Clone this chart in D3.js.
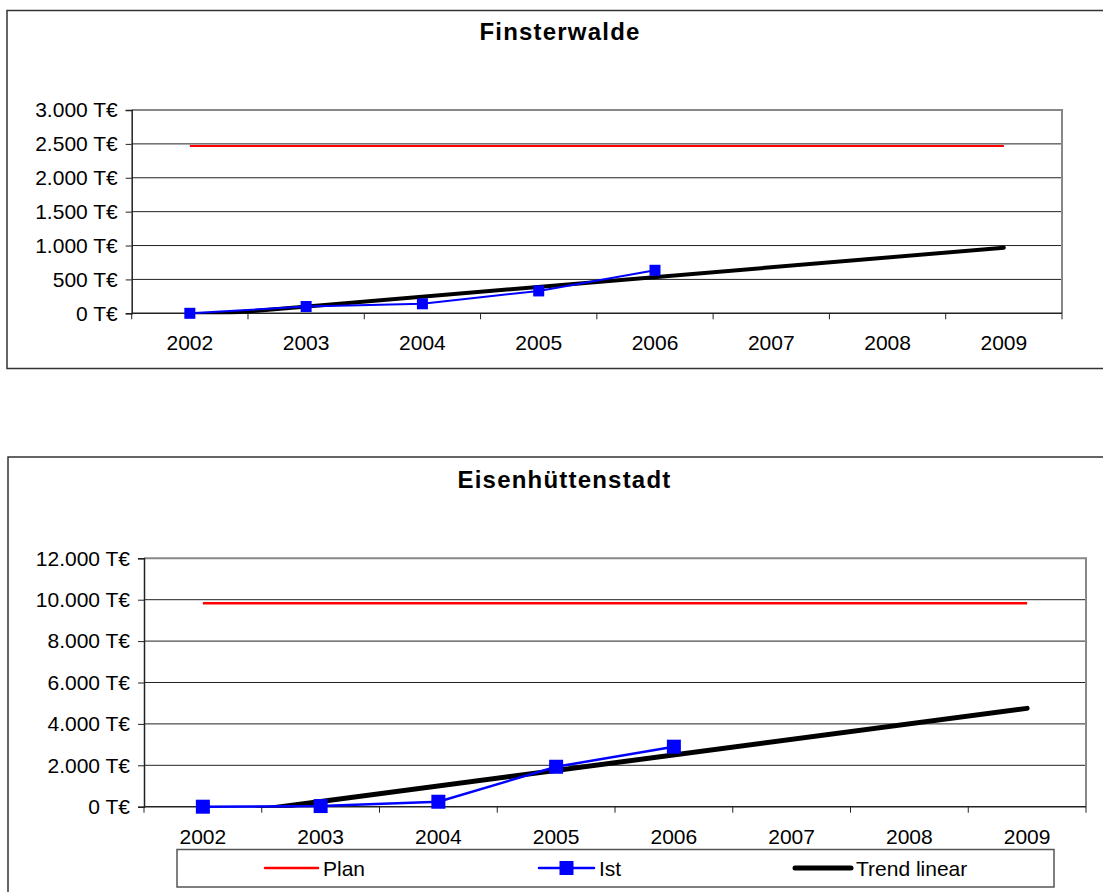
<!DOCTYPE html>
<html>
<head>
<meta charset="utf-8">
<script src="https://cdn.jsdelivr.net/npm/d3@7"></script>
<style>
  body { margin: 0; background: #fff; }
  svg { display: block; font-family: "Liberation Sans", Arial, sans-serif; }
</style>
</head>
<body>
<div id="chart"></div>
<script>
// categories
const years = ["2002", "2003", "2004", "2005", "2006", "2007", "2008", "2009"];
const istYears = ["2002", "2003", "2004", "2005", "2006"];
const trendYears = ["2002", "2009"];

// Finsterwalde (T€)
const finPlan = [2470, 2470, 2470, 2470, 2470, 2470, 2470, 2470];
const finIst = [0, 100, 140, 330, 635];
const finTrend = [-45, 968];
const finTicks = [0, 500, 1000, 1500, 2000, 2500, 3000];

// Eisenhüttenstadt (T€)
const eisPlan = [9830, 9830, 9830, 9830, 9830, 9830, 9830, 9830];
const eisIst = [0, 30, 240, 1930, 2900];
const eisTrend = [-500, 4750];
const eisTicks = [0, 2000, 4000, 6000, 8000, 10000, 12000];

const legendLabels = ["Plan", "Ist", "Trend linear"];

const W = 1103, H = 892;
const de = d3.formatLocale({ decimal: ",", thousands: ".", grouping: [3], currency: ["", " €"] });
const fmt = v => de.format(",")(v) + " T€";

const svg = d3.select("#chart").append("svg")
  .attr("width", W)
  .attr("height", H);

function drawChart(cfg) {
  const g = svg.append("g");

  // outer chart frame
  g.append("rect")
    .attr("x", cfg.box[0]).attr("y", cfg.box[1])
    .attr("width", cfg.box[2]).attr("height", cfg.box[3])
    .attr("fill", "none").attr("stroke", "#333").attr("stroke-width", 1.5);

  g.append("text")
    .attr("x", cfg.titleX).attr("y", cfg.titleY)
    .attr("text-anchor", "middle")
    .attr("font-size", 24).attr("font-weight", "bold")
    .attr("letter-spacing", "1.2px")
    .text(cfg.title);

  const [left, top, right, bottom] = cfg.plot;
  const x = d3.scaleBand(years, [left, right]);
  const cx = d => x(d) + x.bandwidth() / 2;
  const y = d3.scaleLinear([0, d3.max(cfg.ticks)], [bottom, top]);

  // gridlines
  g.append("g").selectAll("line")
    .data(cfg.ticks.filter(t => t > 0 && t < d3.max(cfg.ticks)))
    .join("line")
      .attr("x1", left).attr("x2", right)
      .attr("y1", d => y(d)).attr("y2", d => y(d))
      .attr("stroke", "#222").attr("stroke-width", 1);

  // plot area border (top/right)
  g.append("path")
    .attr("d", `M${left},${top}H${right}V${bottom}`)
    .attr("fill", "none").attr("stroke", "#888").attr("stroke-width", 2);

  // y axis
  const yAxis = g.append("g")
    .attr("transform", `translate(${left},0)`)
    .call(d3.axisLeft(y).tickValues(cfg.ticks).tickSize(6).tickPadding(8).tickFormat(fmt));
  yAxis.select(".domain").attr("stroke", "#222").attr("stroke-width", 1.5);
  yAxis.selectAll(".tick line").attr("stroke", "#222");
  yAxis.selectAll("text").attr("font-size", 21).attr("fill", "#000")
    .attr("font-family", "Liberation Sans, Arial, sans-serif");

  // x axis: ticks on band edges, labels centred
  const edges = years.map(d => x(d)).concat([right]);
  g.append("line")
    .attr("x1", left).attr("x2", right)
    .attr("y1", bottom).attr("y2", bottom)
    .attr("stroke", "#222").attr("stroke-width", 1.5);
  g.append("g").selectAll("line")
    .data(edges)
    .join("line")
      .attr("x1", d => d).attr("x2", d => d)
      .attr("y1", bottom).attr("y2", bottom + 6)
      .attr("stroke", "#222");
  g.append("g").selectAll("text")
    .data(years)
    .join("text")
      .attr("x", d => cx(d))
      .attr("y", bottom + 37)
      .attr("text-anchor", "middle")
      .attr("font-size", 21)
      .text(d => d);

  const clipId = "clip-" + cfg.id;
  g.append("clipPath").attr("id", clipId)
    .append("rect")
      .attr("x", left).attr("y", top)
      .attr("width", right - left).attr("height", bottom - top + 1);

  const line = d3.line().x(d => cx(d[0])).y(d => y(d[1]));

  // Plan
  g.append("path")
    .datum(d3.zip(years, cfg.plan))
    .attr("d", line)
    .attr("fill", "none").attr("stroke", "#ff0000").attr("stroke-width", cfg.thin);

  // Trend linear
  g.append("path")
    .datum(d3.zip(trendYears, cfg.trend))
    .attr("clip-path", `url(#${clipId})`)
    .attr("d", line)
    .attr("fill", "none").attr("stroke", "#000")
    .attr("stroke-width", cfg.thick).attr("stroke-linecap", "round");

  // Ist
  const ist = d3.zip(istYears, cfg.ist);
  g.append("path")
    .datum(ist)
    .attr("d", line)
    .attr("fill", "none").attr("stroke", "#0000ff").attr("stroke-width", cfg.thin);
  g.append("g").selectAll("rect")
    .data(ist)
    .join("rect")
      .attr("x", d => cx(d[0]) - cfg.marker / 2)
      .attr("y", d => y(d[1]) - cfg.marker / 2)
      .attr("width", cfg.marker).attr("height", cfg.marker)
      .attr("fill", "#0000ff");

  return g;
}

drawChart({
  id: "fin", title: "Finsterwalde", titleX: 560, titleY: 40,
  box: [7, 10.5, 1120, 358],
  plot: [131.7, 110, 1062, 313.3],
  ticks: finTicks, plan: finPlan, ist: finIst, trend: finTrend,
  thin: 2, thick: 4, marker: 11
});

const eis = drawChart({
  id: "eis", title: "Eisenhüttenstadt", titleX: 564.5, titleY: 488,
  box: [8, 457, 1120, 460],
  plot: [144, 558.3, 1086, 806.7],
  ticks: eisTicks, plan: eisPlan, ist: eisIst, trend: eisTrend,
  thin: 2.5, thick: 5, marker: 14
});

// legend
const legend = eis.append("g");
legend.append("rect")
  .attr("x", 177).attr("y", 849.5)
  .attr("width", 877).attr("height", 37.5)
  .attr("fill", "#fff").attr("stroke", "#555").attr("stroke-width", 1.5);

const legendItems = [
  { label: legendLabels[0], x1: 265, x2: 318, color: "#ff0000", w: 2.5, marker: false },
  { label: legendLabels[1], x1: 539, x2: 594, color: "#0000ff", w: 2.5, marker: true },
  { label: legendLabels[2], x1: 795, x2: 851, color: "#000", w: 5, marker: false }
];
const item = legend.selectAll("g.item")
  .data(legendItems)
  .join("g").attr("class", "item");
item.append("line")
  .attr("x1", d => d.x1).attr("x2", d => d.x2)
  .attr("y1", 868).attr("y2", 868)
  .attr("stroke", d => d.color).attr("stroke-width", d => d.w)
  .attr("stroke-linecap", "round");
item.filter(d => d.marker).append("rect")
  .attr("x", d => (d.x1 + d.x2) / 2 - 7).attr("y", 861)
  .attr("width", 14).attr("height", 14)
  .attr("fill", "#0000ff");
item.append("text")
  .attr("x", d => d.x2 + 5)
  .attr("y", 875.5)
  .attr("font-size", 21)
  .text(d => d.label);
</script>
</body>
</html>
